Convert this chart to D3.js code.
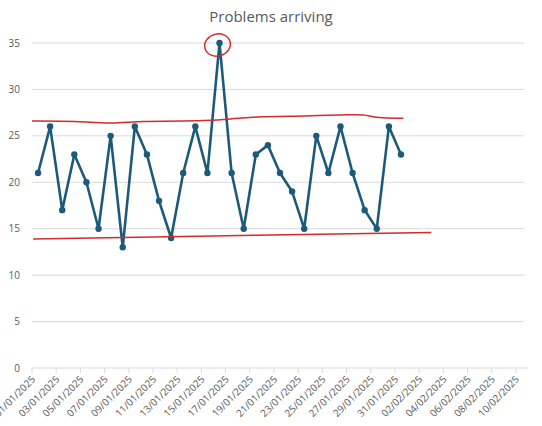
<!DOCTYPE html>
<html><head><meta charset="utf-8">
<script src="https://cdn.jsdelivr.net/npm/d3@7"></script>
<style>body{margin:0;background:#fff}text{font-family:"Open Sans",sans-serif}</style>
</head><body>
<svg id="chart" width="542" height="426"></svg>
<script>
// daily counts 01/01/2025 .. 31/01/2025
const problems = [21,26,17,23,20,15,25,13,26,23,18,14,21,26,21,35,21,15,23,24,21,19,15,25,21,26,21,17,15,26,23];
const yTicks = [0,5,10,15,20,25,30,35];
// hand-drawn annotation lines (day index, value)
const upperMark = [[-0.5,26.6],[2,26.6],[4,26.5],[6,26.3],[8,26.6],[14,26.6],[15,26.7],[18,27.1],[22,27.1],[26,27.3],[27,27.3],[28,26.9],[30.2,26.9]];
const lowerMark = [[-0.4,13.9],[32.5,14.6]];

const svg = d3.select('#chart');
const start = new Date(2025,0,1);
const dayMs = 864e5;
const x = d3.scaleLinear().domain([0,41]).range([32,528]);
const y = d3.scaleLinear().domain([0,35]).range([368,43]);
const grey = '#595959';

svg.append('text').attr('x',271).attr('y',22).attr('text-anchor','middle')
  .attr('fill',grey).attr('font-size',15).text('Problems arriving');

svg.append('g').selectAll('line').data(yTicks.filter(d=>d>0)).join('line')
  .attr('x1',32).attr('x2',524).attr('y1',d=>y(d)).attr('y2',d=>y(d))
  .attr('stroke','#d9d9d9');
svg.append('g').selectAll('text').data(yTicks).join('text')
  .attr('x',20).attr('y',d=>y(d)+3.5).attr('text-anchor','end')
  .attr('font-size',10).attr('fill',grey).text(d=>d);

// x axis
const xTicks = d3.range(0,41,2);
const xa = svg.append('g');
xa.append('line').attr('x1',32).attr('x2',528).attr('y1',368).attr('y2',368).attr('stroke','#d9d9d9');
xa.selectAll('line.t').data(xTicks).join('line').attr('class','t')
  .attr('x1',d=>x(d)).attr('x2',d=>x(d)).attr('y1',368).attr('y2',373).attr('stroke','#d9d9d9');
const fmt = d3.timeFormat('%d/%m/%Y');
xa.selectAll('text').data(xTicks).join('text')
  .attr('transform',d=>`translate(${x(d)+4},380) rotate(-45)`)
  .attr('text-anchor','end').attr('font-size',10).attr('fill',grey)
  .text(d=>fmt(new Date(start.getTime()+d*dayMs)));

const px = i=>x(i+0.5);
const line = d3.line().x((d,i)=>px(i)).y(d=>y(d));
svg.append('path').datum(problems).attr('d',line).attr('fill','none')
  .attr('stroke','#1b5a7a').attr('stroke-width',2.6).attr('stroke-linejoin','round');
svg.append('g').selectAll('circle').data(problems).join('circle')
  .attr('cx',(d,i)=>px(i)).attr('cy',d=>y(d)).attr('r',3.2).attr('fill','#1b5a7a');

// red annotations
const red = '#d42a2a';
const ml = d3.line().x(d=>px(d[0])).y(d=>y(d[1])).curve(d3.curveBasis);
svg.append('path').datum(upperMark).attr('d',ml).attr('fill','none').attr('stroke',red).attr('stroke-width',1.5);
svg.append('path').datum(lowerMark).attr('d',ml).attr('fill','none').attr('stroke',red).attr('stroke-width',1.5);
const peak = problems.indexOf(d3.max(problems));
svg.append('ellipse').attr('cx',px(peak)-2).attr('cy',y(35)+2).attr('rx',13).attr('ry',11)
  .attr('fill','none').attr('stroke',red).attr('stroke-width',1.5)
  .attr('transform',`rotate(-15,${px(peak)-2},${y(35)+2})`);
</script>
</body></html>
